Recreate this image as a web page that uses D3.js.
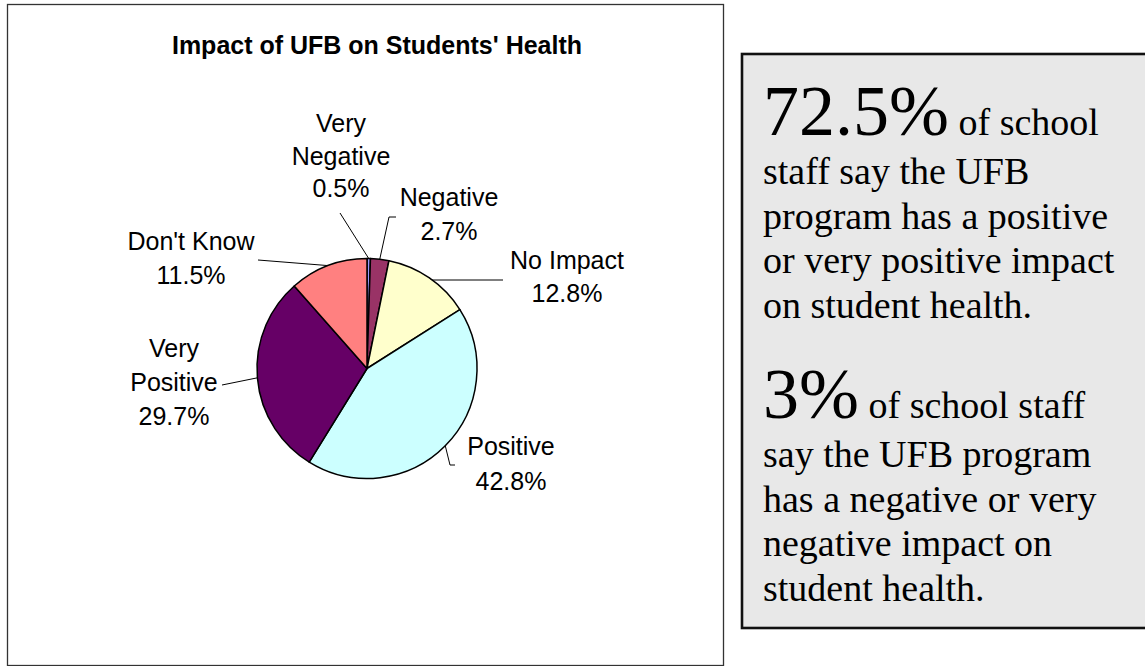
<!DOCTYPE html>
<html>
<head>
<meta charset="utf-8">
<script src="https://cdn.jsdelivr.net/npm/d3@7"></script>
<style>
  body { margin: 0; background: #fff; }
  svg { display: block; }
  .lbl { font-family: "Liberation Sans", Arial, sans-serif; font-size: 25px; fill: #000; }
  .ttl { font-family: "Liberation Sans", Arial, sans-serif; font-size: 25px; font-weight: bold; }
  .callout { font-family: "Liberation Serif", "Times New Roman", serif; fill: #000; }
  .leader { fill: none; stroke: #000; stroke-width: 1; }
</style>
</head>
<body>
<script>
// data
const categories = ["Very Negative", "Negative", "No Impact", "Positive", "Very Positive", "Don't Know"];
const values = [0.5, 2.7, 12.8, 42.8, 29.7, 11.5];
const labelLines = [["Very", "Negative"], ["Negative"], ["No Impact"], ["Positive"], ["Very", "Positive"], ["Don't Know"]];
const sliceColors = ["#9999ff", "#993366", "#ffffcc", "#ccffff", "#660066", "#ff8080"];

const chartTitle = "Impact of UFB on Students' Health";
const callout1Big = "72.5%";
const callout1Lines = [" of school", "staff say the UFB", "program has a positive", "or very positive impact", "on student health."];
const callout2Big = "3%";
const callout2Lines = [" of school staff", "say the UFB program", "has a negative or very", "negative impact on", "student health."];

// label layout: centre x, first baseline, line gap, leader start points
const labelLayout = [
  { x: 341, y: 132, gap: 32.5, lead: [[340, 213]] },
  { x: 449, y: 206, gap: 34, lead: [[396, 217], [389, 217]] },
  { x: 567, y: 269, gap: 33, lead: [[503, 280], [432, 280]] },
  { x: 511, y: 455, gap: 35, lead: [[455, 465], [450, 465]] },
  { x: 174, y: 357, gap: 34, lead: [[222, 385]] },
  { x: 191, y: 250, gap: 34, lead: [[258, 260]] }
];

const W = 1145, H = 666;
const cx = 367, cy = 368.5, r = 110;

const svg = d3.select("body").append("svg")
  .attr("width", W).attr("height", H);

// chart frame
svg.append("rect")
  .attr("x", 7.5).attr("y", 4.5)
  .attr("width", 716).attr("height", 661)
  .attr("fill", "#fff").attr("stroke", "#333").attr("stroke-width", 1.3);

svg.append("text").attr("class", "ttl")
  .attr("x", 377).attr("y", 54)
  .attr("text-anchor", "middle")
  .text(chartTitle);

const color = d3.scaleOrdinal().domain(categories).range(sliceColors);

const pie = d3.pie().sort(null).value(d => d.value);
const arcs = pie(categories.map((c, i) => ({ name: c, value: values[i], i: i })));

const arc = d3.arc().innerRadius(0).outerRadius(r);
const edge = d3.arc().innerRadius(r).outerRadius(r);

const g = svg.append("g").attr("transform", `translate(${cx},${cy})`);

g.selectAll("path.slice")
  .data(arcs)
  .enter()
  .append("path")
  .attr("class", "slice")
  .attr("d", arc)
  .attr("fill", d => color(d.data.name))
  .attr("stroke", "#000")
  .attr("stroke-width", 1.5)
  .attr("stroke-linejoin", "round");

// leader lines
const line = d3.line();
svg.selectAll("path.leader")
  .data(arcs)
  .enter()
  .append("path")
  .attr("class", "leader")
  .attr("d", d => {
    const c = edge.centroid(d);
    const pts = labelLayout[d.index].lead.slice();
    pts.push([cx + c[0], cy + c[1]]);
    return line(pts);
  });

// labels
const lbl = svg.selectAll("text.lbl")
  .data(arcs)
  .enter()
  .append("text")
  .attr("class", "lbl")
  .attr("text-anchor", "middle");

lbl.selectAll("tspan")
  .data(d => labelLines[d.index].concat([d3.format(".1f")(d.data.value) + "%"])
    .map((t, j) => ({ t: t, j: j, L: labelLayout[d.index] })))
  .enter()
  .append("tspan")
  .attr("x", d => d.L.x)
  .attr("y", d => d.L.y + d.j * d.L.gap)
  .text(d => d.t);

// callout box on the right
svg.append("rect")
  .attr("x", 742).attr("y", 54)
  .attr("width", 460).attr("height", 574)
  .attr("fill", "#e8e8e8").attr("stroke", "#111").attr("stroke-width", 2.6);

function callout(big, lines, y0) {
  const t = svg.append("text").attr("class", "callout");
  t.append("tspan").attr("x", 763).attr("y", y0)
    .attr("font-size", 72).text(big);
  t.append("tspan").attr("font-size", 38).text(lines[0]);
  lines.slice(1).forEach((s, k) => {
    t.append("tspan").attr("x", 763).attr("y", y0 + 49 + k * 44.5)
      .attr("font-size", 38).text(s);
  });
}
callout(callout1Big, callout1Lines, 135);
callout(callout2Big, callout2Lines, 418);
</script>
</body>
</html>
